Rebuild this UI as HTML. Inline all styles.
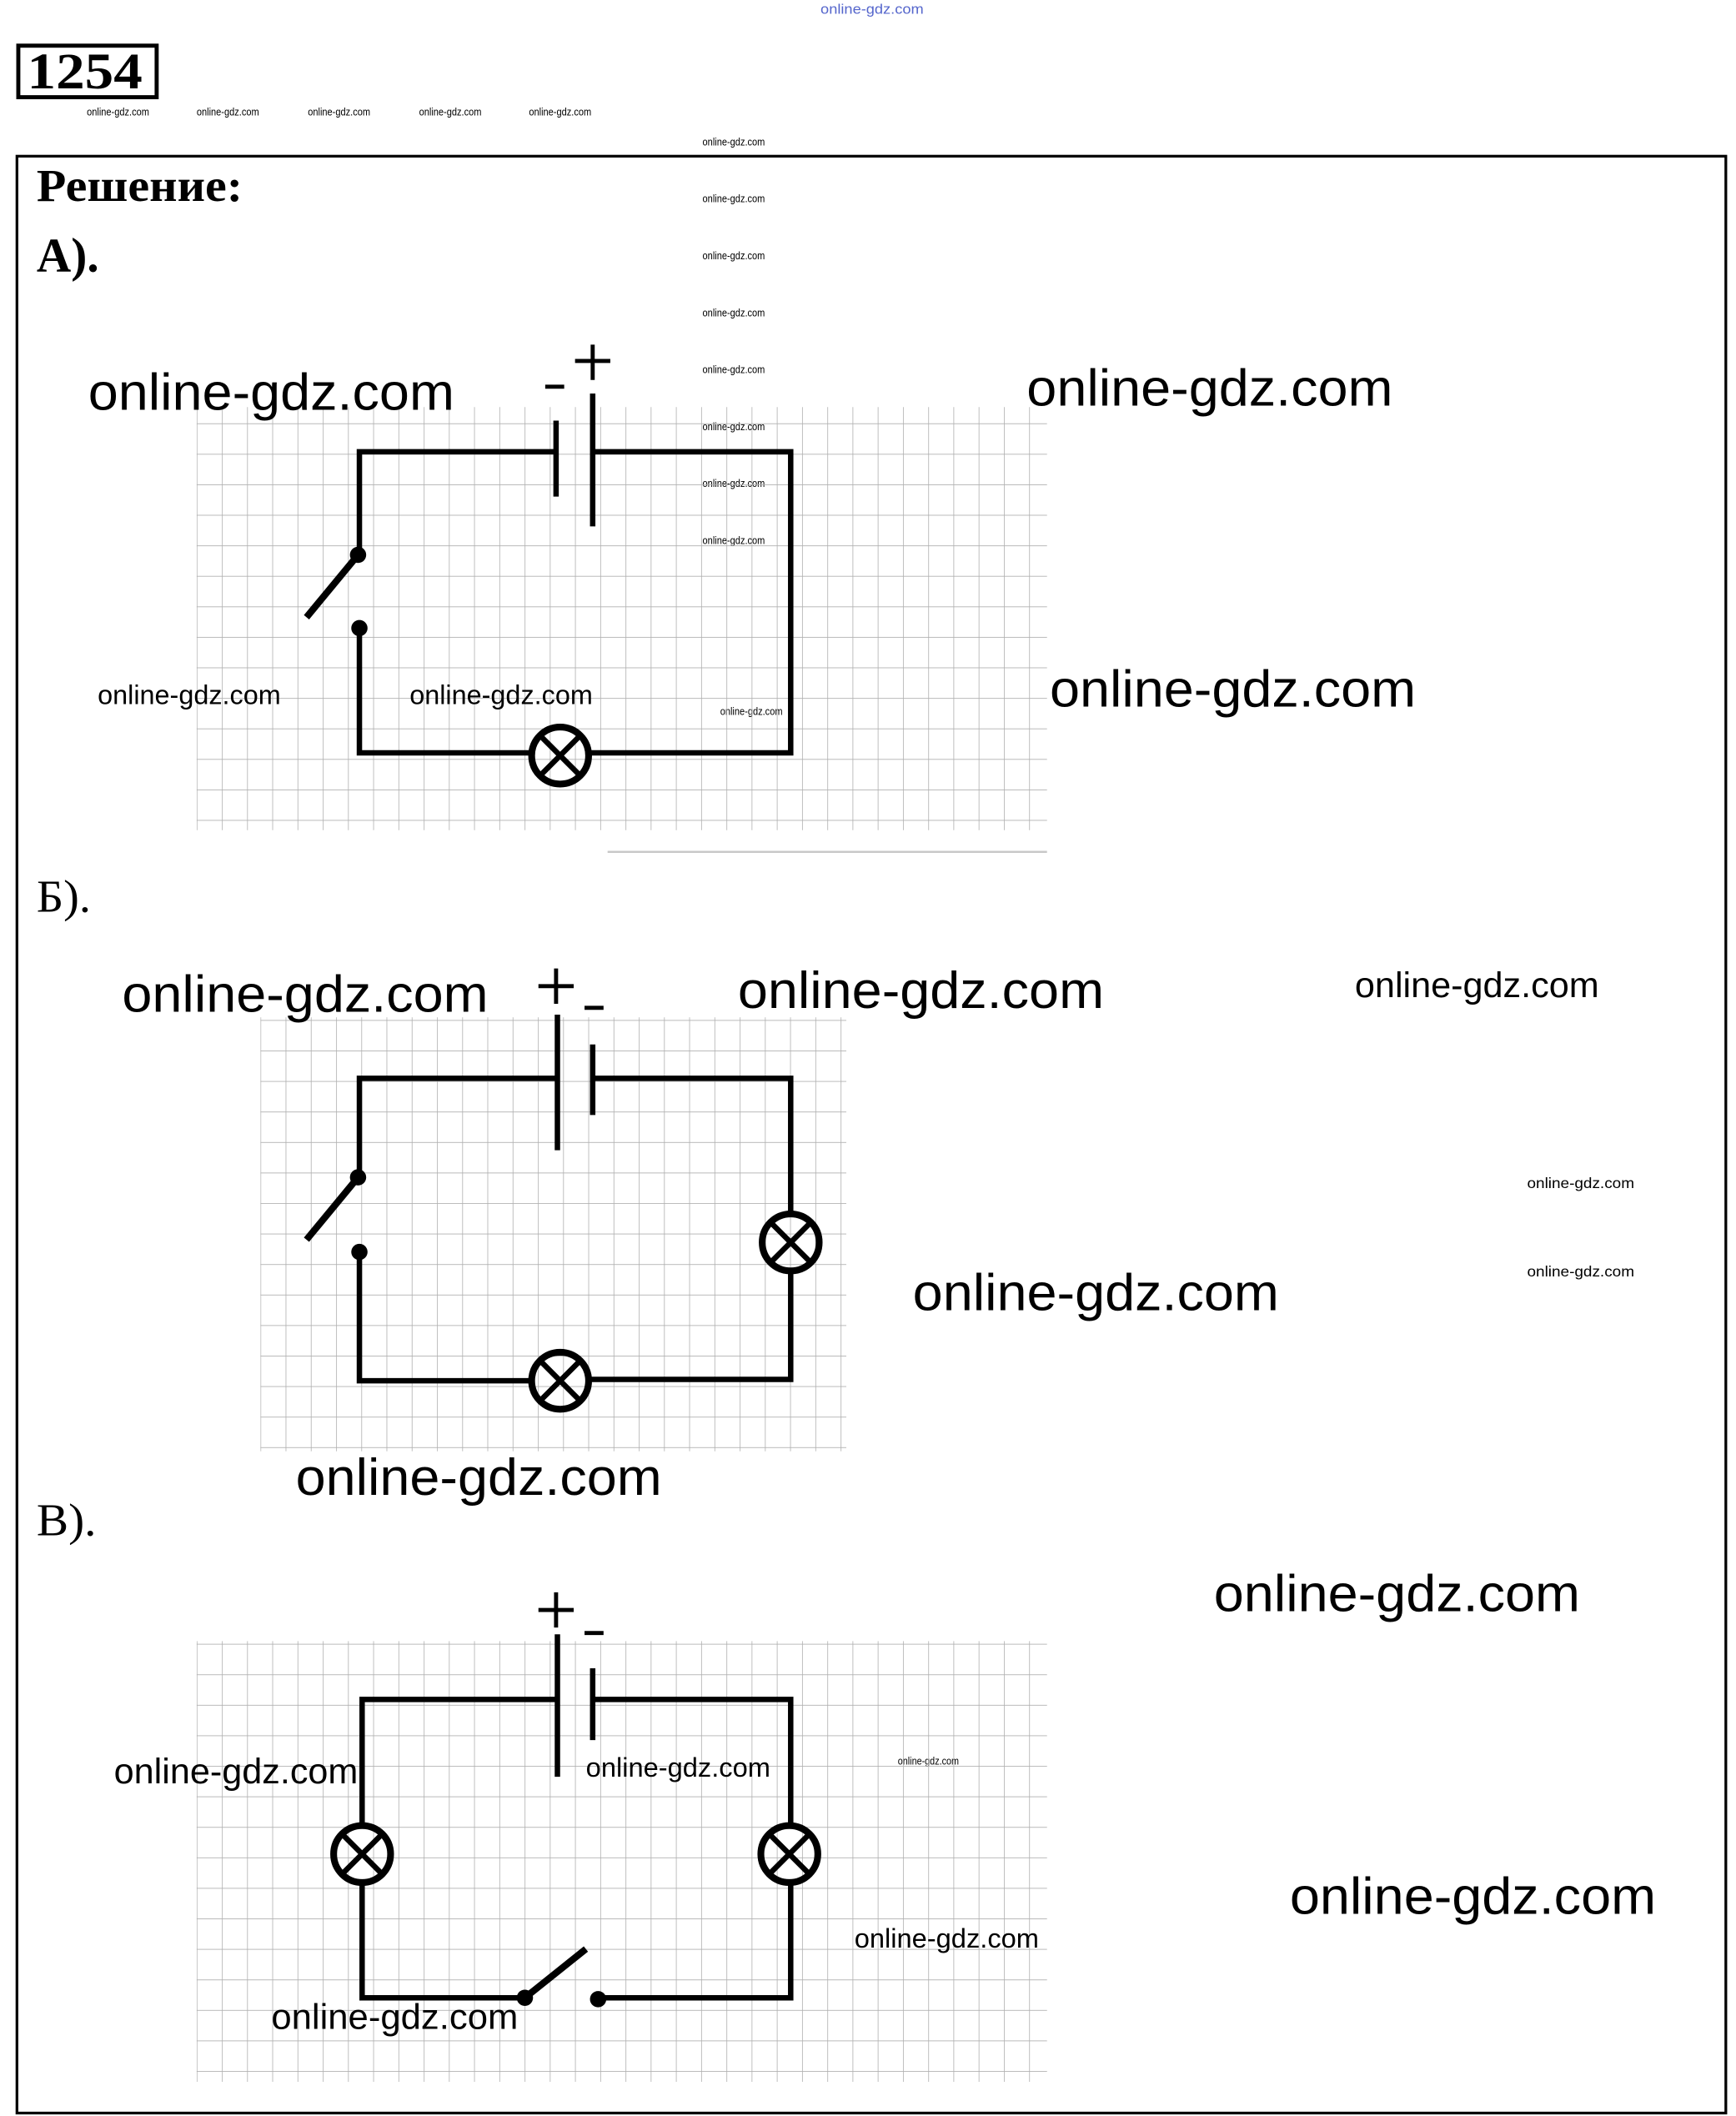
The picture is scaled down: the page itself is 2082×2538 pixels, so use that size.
<!DOCTYPE html>
<html><head><meta charset="utf-8"><style>html,body{margin:0;padding:0;background:#fff}svg{display:block}</style></head>
<body>
<svg width="2082" height="2538" viewBox="0 0 1280 1560" xmlns="http://www.w3.org/2000/svg">
<defs>
<pattern id="g" x="145" y="312" width="18.6" height="22.5" patternUnits="userSpaceOnUse">
<path d="M0 0V22.5M0 0H18.6" stroke="#b0b0b0" stroke-width="1" fill="none"/>
</pattern>
<pattern id="g2" x="192" y="752" width="18.6" height="22.5" patternUnits="userSpaceOnUse">
<path d="M0 0V22.5M0 0H18.6" stroke="#b0b0b0" stroke-width="1" fill="none"/>
</pattern>
<pattern id="g3" x="145" y="1212" width="18.6" height="22.5" patternUnits="userSpaceOnUse">
<path d="M0 0V22.5M0 0H18.6" stroke="#b0b0b0" stroke-width="1" fill="none"/>
</pattern>
</defs>
<rect width="1280" height="1560" fill="#fff"/>
<text x="605" y="10" font-family="Liberation Sans,sans-serif" font-size="10" fill="#5566cc" textLength="76" lengthAdjust="spacingAndGlyphs">online-gdz.com</text>
<rect x="13.5" y="33.5" width="102" height="38" fill="none" stroke="#000" stroke-width="3"/>
<text x="20" y="65" font-family="Liberation Serif,serif" font-weight="bold" font-size="38" textLength="85" lengthAdjust="spacingAndGlyphs">1254</text>
<g font-family="Liberation Sans,sans-serif" font-size="8">
<text x="64" y="85" textLength="46" lengthAdjust="spacingAndGlyphs">online-gdz.com</text>
<text x="145" y="85" textLength="46" lengthAdjust="spacingAndGlyphs">online-gdz.com</text>
<text x="227" y="85" textLength="46" lengthAdjust="spacingAndGlyphs">online-gdz.com</text>
<text x="309" y="85" textLength="46" lengthAdjust="spacingAndGlyphs">online-gdz.com</text>
<text x="390" y="85" textLength="46" lengthAdjust="spacingAndGlyphs">online-gdz.com</text>
<text x="518" y="107" textLength="46" lengthAdjust="spacingAndGlyphs">online-gdz.com</text>
<text x="518" y="149" textLength="46" lengthAdjust="spacingAndGlyphs">online-gdz.com</text>
<text x="518" y="191" textLength="46" lengthAdjust="spacingAndGlyphs">online-gdz.com</text>
<text x="518" y="233" textLength="46" lengthAdjust="spacingAndGlyphs">online-gdz.com</text>
<text x="518" y="275" textLength="46" lengthAdjust="spacingAndGlyphs">online-gdz.com</text>
<text x="518" y="317" textLength="46" lengthAdjust="spacingAndGlyphs">online-gdz.com</text>
<text x="518" y="359" textLength="46" lengthAdjust="spacingAndGlyphs">online-gdz.com</text>
<text x="518" y="401" textLength="46" lengthAdjust="spacingAndGlyphs">online-gdz.com</text>
<text x="531" y="527" textLength="46" lengthAdjust="spacingAndGlyphs">online-gdz.com</text>
<text x="662" y="1301" textLength="45" lengthAdjust="spacingAndGlyphs">online-gdz.com</text>
</g>
<rect x="12.5" y="115" width="1260" height="1443" fill="none" stroke="#000" stroke-width="2"/>
<text x="27" y="148" font-family="Liberation Serif,serif" font-weight="bold" font-size="34" textLength="152" lengthAdjust="spacingAndGlyphs">Решение:</text>
<text x="27" y="200" font-family="Liberation Serif,serif" font-weight="bold" font-size="36" textLength="46" lengthAdjust="spacingAndGlyphs">А).</text>
<text x="27" y="672" font-family="Liberation Serif,serif" font-size="34" textLength="40" lengthAdjust="spacingAndGlyphs">Б).</text>
<text x="27" y="1132" font-family="Liberation Serif,serif" font-size="34" textLength="44" lengthAdjust="spacingAndGlyphs">В).</text>
<rect x="145" y="300" width="627" height="312" fill="url(#g)"/>
<rect x="192" y="750" width="432" height="320" fill="url(#g2)"/>
<rect x="145" y="1210" width="627" height="325" fill="url(#g3)"/>
<line x1="448" y1="628" x2="772" y2="628" stroke="#c8c8c8" stroke-width="1.5"/>
<g stroke="#000" stroke-width="4" fill="none" stroke-linecap="butt">
<path d="M410 333H265V410M437 333H583V555H435M391 555H265V463"/>
<line x1="410" y1="310" x2="410" y2="366"/>
<line x1="437" y1="290" x2="437" y2="388"/>
<line x1="264" y1="409" x2="226" y2="455" stroke-width="5"/>
<circle cx="413" cy="557" r="21" stroke-width="5"/>
<path d="M399 543L427 571M427 543L399 571" stroke-width="4"/>
<path d="M402 285H416M424 266H450M437 254V280" stroke-width="3"/>
<path d="M411 795H265V868M437 795H583V894M583 938V1017H435M391 1018H265V923"/>
<line x1="411" y1="748" x2="411" y2="848"/>
<line x1="437" y1="770" x2="437" y2="822"/>
<line x1="264" y1="868" x2="226" y2="914" stroke-width="5"/>
<circle cx="413" cy="1018" r="21" stroke-width="5"/>
<path d="M399 1004L427 1032M427 1004L399 1032"/>
<circle cx="583" cy="916" r="21" stroke-width="5"/>
<path d="M569 902L597 930M597 902L569 930"/>
<path d="M397 727H423M410 714V740M431 743H445" stroke-width="3"/>
<path d="M411 1253H267V1345M267 1389V1473H387M437 1253H583V1345M583 1389V1473H441"/>
<line x1="411" y1="1205" x2="411" y2="1310"/>
<line x1="437" y1="1230" x2="437" y2="1283"/>
<line x1="387" y1="1473" x2="432" y2="1437" stroke-width="5"/>
<circle cx="267" cy="1367" r="21" stroke-width="5"/>
<path d="M253 1353L281 1381M281 1353L253 1381"/>
<circle cx="582" cy="1367" r="21" stroke-width="5"/>
<path d="M568 1353L596 1381M596 1353L568 1381"/>
<path d="M397 1187H423M410 1174V1200M431 1204H445" stroke-width="3"/>
</g>
<g fill="#000">
<circle cx="264" cy="409" r="6"/><circle cx="265" cy="463" r="6"/>
<circle cx="264" cy="868" r="6"/><circle cx="265" cy="923" r="6"/>
<circle cx="387" cy="1473" r="6"/><circle cx="441" cy="1474" r="6"/>
</g>
<g font-family="Liberation Sans,sans-serif" font-size="38">
<text x="65" y="302" textLength="270" lengthAdjust="spacingAndGlyphs">online-gdz.com</text>
<text x="757" y="299" textLength="270" lengthAdjust="spacingAndGlyphs">online-gdz.com</text>
<text x="774" y="521" textLength="270" lengthAdjust="spacingAndGlyphs">online-gdz.com</text>
<text x="90" y="746" textLength="270" lengthAdjust="spacingAndGlyphs">online-gdz.com</text>
<text x="544" y="743" textLength="270" lengthAdjust="spacingAndGlyphs">online-gdz.com</text>
<text x="673" y="966" textLength="270" lengthAdjust="spacingAndGlyphs">online-gdz.com</text>
<text x="218" y="1102" textLength="270" lengthAdjust="spacingAndGlyphs">online-gdz.com</text>
<text x="895" y="1188" textLength="270" lengthAdjust="spacingAndGlyphs">online-gdz.com</text>
<text x="951" y="1411" textLength="270" lengthAdjust="spacingAndGlyphs">online-gdz.com</text>
</g>
<g font-family="Liberation Sans,sans-serif" font-size="20">
<text x="72" y="519" textLength="135" lengthAdjust="spacingAndGlyphs">online-gdz.com</text>
<text x="302" y="519" textLength="135" lengthAdjust="spacingAndGlyphs">online-gdz.com</text>
<text x="432" y="1310" textLength="136" lengthAdjust="spacingAndGlyphs">online-gdz.com</text>
<text x="630" y="1436" textLength="136" lengthAdjust="spacingAndGlyphs">online-gdz.com</text>
</g>
<g font-family="Liberation Sans,sans-serif" font-size="26">
<text x="999" y="735" textLength="180" lengthAdjust="spacingAndGlyphs">online-gdz.com</text>
<text x="84" y="1315" textLength="180" lengthAdjust="spacingAndGlyphs">online-gdz.com</text>
<text x="200" y="1496" textLength="182" lengthAdjust="spacingAndGlyphs">online-gdz.com</text>
</g>
<g font-family="Liberation Sans,sans-serif" font-size="11">
<text x="1126" y="876" textLength="79" lengthAdjust="spacingAndGlyphs">online-gdz.com</text>
<text x="1126" y="941" textLength="79" lengthAdjust="spacingAndGlyphs">online-gdz.com</text>
</g>
</svg>
</body></html>
